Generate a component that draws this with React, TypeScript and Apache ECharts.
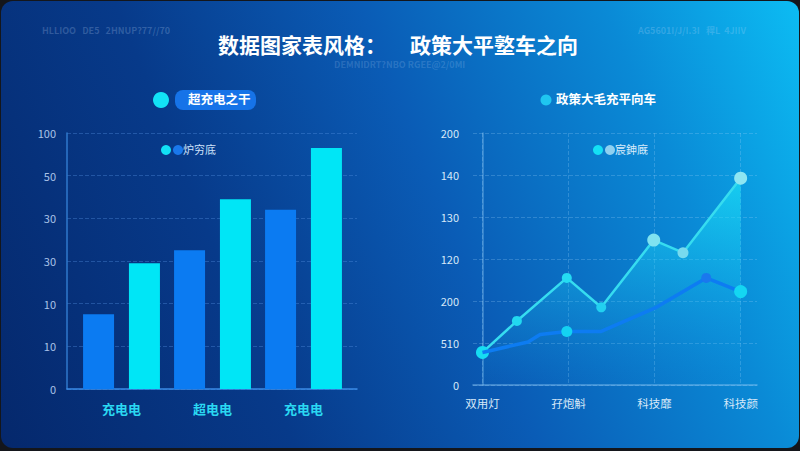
import React, { useEffect, useRef } from "react";
import * as echarts from "echarts";

// ---- data ----
const mainTitle = "数据图家表风格：";
const mainTitle2 = "政策大平墪车之向";
const leftPanelTitle = "超充电之干";
const rightPanelTitle = "政策大毛充平向车";
const leftLegendText = "炉穷底";
const rightLegendText = "宸鉮廐";

const barCategories = ["充电电", "超电电", "充电电"];
const barBlue = [35, 65, 84];
const barCyan = [59, 89, 113];
const leftTickLabels = ["0", "10", "10", "30", "30", "50", "100"];

const lineCategories = ["双用灯", "孖炮斛", "科技靡", "科技颜"];
const lineCategoryPos = [0, 1, 2, 3];
const cyanX = [0, 0.4, 0.98, 1.38, 1.99, 2.33, 3];
const cyanY = [31, 61, 102, 74, 138, 126, 197];
const blueX = [0, 0.53, 0.67, 0.98, 1.38, 2.02, 2.6, 3];
const blueY = [31, 41, 48, 51, 51, 74, 102, 89];
const rightTickLabels = ["0", "510", "200", "120", "130", "140", "200"];

// marker styling per point (style only)
const cyanMarkers = [
  { size: 13, color: "#16dcf2" },
  { size: 10, color: "#22d8f0" },
  { size: 10, color: "#25dcf2" },
  { size: 10, color: "#22d0f0" },
  { size: 13, color: "#7fe2f0" },
  { size: 11, color: "#78daee" },
  { size: 13, color: "#8ee6f2" },
];
const blueMarkers = [
  null,
  null,
  null,
  { size: 11, color: "#14d2f2" },
  null,
  null,
  { size: 10, color: "#1a78ee" },
  { size: 13, color: "#14d6f2" },
];

const FONT = "'Noto Sans CJK SC', 'Noto Sans', sans-serif";

export default function App() {
  const ref = useRef<HTMLDivElement>(null);

  useEffect(() => {
    if (!ref.current) return;
    const chart = echarts.init(ref.current, undefined, { renderer: "svg" });

    const cyanData = cyanX.map((x, i) => ({
      value: [x, cyanY[i]],
      symbolSize: cyanMarkers[i].size,
      itemStyle: { color: cyanMarkers[i].color },
    }));
    const blueData = blueX.map((x, i) => {
      const m = blueMarkers[i];
      return m
        ? { value: [x, blueY[i]], symbol: "circle", symbolSize: m.size, itemStyle: { color: m.color } }
        : { value: [x, blueY[i]], symbol: "none" };
    });

    const faint = (text: string, x: number, y: number, size: number, opacity: number) => ({
      type: "text",
      x,
      y,
      style: { text, fill: `rgba(200,225,255,${opacity})`, font: `bold ${size}px ${FONT}` },
    });

    chart.setOption({
      animation: false,
      backgroundColor: "transparent",
      textStyle: { fontFamily: FONT },
      graphic: [
        faint("HLLIOO   DE5   2HNUP?77//70", 42, 26, 9, 0.22),
        faint("AG5601I/J/I.3I   稈L  4JIIV", 638, 26, 9, 0.22),
        faint("DEMNIDRT?NBO RGEE@2/0MI", 334, 60, 9, 0.18),
        {
          type: "text",
          x: 218,
          y: 33,
          style: { text: mainTitle, fill: "#ffffff", font: `bold 21px ${FONT}` },
        },
        {
          type: "text",
          x: 410,
          y: 33,
          style: { text: mainTitle2, fill: "#ffffff", font: `bold 21px ${FONT}` },
        },
        // left panel header
        { type: "circle", shape: { cx: 161, cy: 100, r: 8 }, style: { fill: "#12e2f6" } },
        {
          type: "rect",
          shape: { x: 175, y: 90, width: 81, height: 20, r: 8 },
          style: { fill: "#1673e8" },
        },
        {
          type: "text",
          x: 188,
          y: 92,
          style: { text: leftPanelTitle, fill: "#ffffff", font: `bold 12.5px ${FONT}` },
        },
        // right panel header
        { type: "circle", shape: { cx: 546, cy: 100, r: 5.5 }, style: { fill: "#1fc6f0" } },
        {
          type: "text",
          x: 556,
          y: 92,
          style: { text: rightPanelTitle, fill: "#ffffff", font: `bold 12.5px ${FONT}` },
        },
        // left legend
        { type: "circle", shape: { cx: 166, cy: 150, r: 5 }, style: { fill: "#12e0f5" } },
        { type: "circle", shape: { cx: 178, cy: 150, r: 5 }, style: { fill: "#1a78ec" } },
        {
          type: "text",
          x: 183,
          y: 143,
          style: { text: leftLegendText, fill: "#cfe2fa", font: `11px ${FONT}` },
        },
        // right legend
        { type: "circle", shape: { cx: 598, cy: 150, r: 5 }, style: { fill: "#14e0f5" } },
        { type: "circle", shape: { cx: 610, cy: 150, r: 5 }, style: { fill: "#8fd0f0" } },
        {
          type: "text",
          x: 615,
          y: 143,
          style: { text: rightLegendText, fill: "#d8ecfb", font: `11px ${FONT}` },
        },
      ],
      grid: [
        // frame grid of the bar chart (axis lines, split lines)
        { left: 67, right: 443, top: 133, bottom: 62 },
        // line chart grid
        { left: 473, right: 43, top: 133, bottom: 66 },
        // bar placement grid
        { left: 76, right: 451, top: 133, bottom: 62 },
      ],
      xAxis: [
        {
          type: "category",
          gridIndex: 0,
          data: barCategories,
          axisLine: { lineStyle: { color: "#3a8ae6", width: 1.5 } },
          axisTick: { show: false },
          axisLabel: { show: false },
        },
        {
          type: "value",
          gridIndex: 1,
          min: -0.11,
          max: 3.19,
          axisLine: { show: true, lineStyle: { color: "rgba(140,200,245,0.55)", width: 1.5 } },
          axisTick: { show: false, customValues: lineCategoryPos },
          axisLabel: {
            customValues: lineCategoryPos,
            color: "#d6e8f8",
            fontSize: 11.5,
            margin: 12,
            formatter: (v: number) => lineCategories[Math.round(v)] ?? "",
          },
          splitLine: {
            show: true,
            lineStyle: { color: "rgba(160,210,250,0.25)", type: "dashed" },
          },
        },
        {
          type: "category",
          gridIndex: 2,
          data: barCategories,
          axisLine: { show: false },
          axisTick: { show: false },
          axisLabel: { color: "#2ad8f2", fontSize: 13, fontWeight: "bold", margin: 13 },
        },
      ],
      yAxis: [
        {
          type: "value",
          gridIndex: 0,
          min: 0,
          max: 120,
          interval: 20,
          axisLine: { show: true, lineStyle: { color: "#2f78cc", width: 1.5 } },
          axisTick: { show: false },
          axisLabel: {
            color: "#a9c3e8",
            fontSize: 11,
            margin: 11,
            formatter: (v: number) => leftTickLabels[Math.round(v / 20)] ?? "",
          },
          splitLine: { lineStyle: { color: "rgba(90,150,230,0.35)", type: "dashed" } },
        },
        {
          type: "value",
          gridIndex: 1,
          min: 0,
          max: 240,
          interval: 40,
          axisLine: { show: true, lineStyle: { color: "rgba(140,200,245,0.45)", width: 1.5 } },
          axisTick: { show: false },
          axisLabel: {
            color: "#d6e8f8",
            fontSize: 11,
            margin: 14,
            formatter: (v: number) => rightTickLabels[Math.round(v / 40)] ?? "",
          },
          splitLine: { lineStyle: { color: "rgba(160,210,250,0.25)", type: "dashed" } },
        },
        {
          type: "value",
          gridIndex: 2,
          min: 0,
          max: 120,
          interval: 20,
          show: false,
        },
      ],
      series: [
        {
          type: "bar",
          name: "blue",
          xAxisIndex: 2,
          yAxisIndex: 2,
          data: barBlue,
          barWidth: 31,
          barGap: "48%",
          itemStyle: { color: "#0b7bf2" },
        },
        {
          type: "bar",
          name: "cyan",
          xAxisIndex: 2,
          yAxisIndex: 2,
          data: barCyan,
          barWidth: 31,
          barGap: "48%",
          itemStyle: { color: "#00e6f6" },
        },
        {
          type: "line",
          name: "cyanLine",
          xAxisIndex: 1,
          yAxisIndex: 1,
          data: cyanData,
          symbol: "circle",
          z: 2,
          lineStyle: { color: "#36dcf0", width: 2.5 },
          areaStyle: {
            color: new echarts.graphic.LinearGradient(0, 0, 0, 1, [
              { offset: 0, color: "rgba(30,235,250,0.9)" },
              { offset: 0.5, color: "rgba(25,205,245,0.45)" },
              { offset: 1, color: "rgba(20,160,235,0.05)" },
            ]),
          },
        },
        {
          type: "line",
          name: "blueLine",
          xAxisIndex: 1,
          yAxisIndex: 1,
          data: blueData,
          symbol: "circle",
          z: 3,
          lineStyle: { color: "#0d7cf2", width: 3.5 },
        },
      ],
    });

    return () => chart.dispose();
  }, []);

  return (
    <div
      style={{
        position: "fixed",
        left: 0,
        top: 0,
        width: 800,
        height: 451,
        background: "#14161b",
      }}
    >
      <div
        style={{
          position: "absolute",
          left: 1,
          top: 1,
          width: 798,
          height: 447,
          borderRadius: 12,
          background:
            "linear-gradient(68deg, #05286c 0%, #073a8a 30%, #0a5cb6 55%, #0a8ad6 80%, #0cbcf3 100%)",
        }}
      />
      <div ref={ref} style={{ position: "absolute", left: 0, top: 0, width: 800, height: 451 }} />
    </div>
  );
}
